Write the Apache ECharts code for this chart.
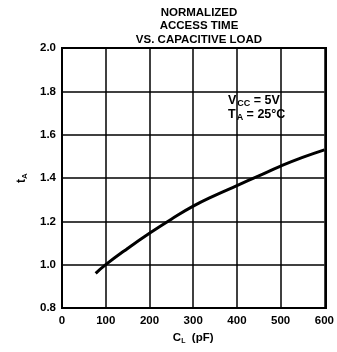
<!DOCTYPE html>
<html>
<head>
<meta charset="utf-8">
<script src="https://cdn.jsdelivr.net/npm/echarts@6/dist/echarts.min.js"></script>
<style>
  html, body { margin: 0; padding: 0; background: #fff; }
  #my-charts { width: 337px; height: 352px; }
</style>
</head>
<body>
<div id="my-charts"></div>
<script>
// load capacitance (pF) and normalized access time
var loadPf = [77, 100, 150, 200, 250, 300, 350, 400, 450, 500, 550, 600]
var accessTime = [0.96, 1.0, 1.075, 1.145, 1.21, 1.27, 1.32, 1.365, 1.41, 1.455, 1.495, 1.53]
var titleLines = ['NORMALIZED', 'ACCESS TIME', 'VS. CAPACITIVE LOAD']

var font = 'Liberation Sans'
var myChart = echarts.init(document.getElementById('my-charts'))

var option = {
  backgroundColor: '#fff',
  animation: false,
  title: {
    text: titleLines.join('\n'),
    left: 194,
    top: 1,
    textAlign: 'center',
    textStyle: {
      fontFamily: font,
      fontWeight: 'bold',
      fontSize: 11.5,
      lineHeight: 13.5,
      color: '#000'
    }
  },
  grid: { left: 62, right: 11, top: 48, bottom: 44 },
  xAxis: {
    type: 'value',
    min: 0,
    max: 600,
    interval: 100,
    name: '{b|C}{s|L}{b|  (pF)}',
    nameLocation: 'middle',
    nameGap: 22,
    nameTextStyle: {
      rich: {
        b: { fontFamily: font, fontWeight: 'bold', fontSize: 11.5, color: '#000' },
        s: { fontFamily: font, fontWeight: 'bold', fontSize: 7, color: '#000', padding: [6, 0, 0, 0] }
      }
    },
    axisLine: { lineStyle: { color: '#000', width: 2 } },
    axisTick: { show: false },
    axisLabel: { fontFamily: font, fontWeight: 'bold', fontSize: 11.5, color: '#000', margin: 7 },
    splitLine: { lineStyle: { color: '#000', width: 1.5 } }
  },
  yAxis: {
    type: 'value',
    min: 0.8,
    max: 2.0,
    interval: 0.2,
    name: '{b|t}{s|A}',
    nameLocation: 'middle',
    nameRotate: 90,
    nameGap: 26,
    nameTextStyle: {
      rich: {
        b: { fontFamily: font, fontWeight: 'bold', fontSize: 12, color: '#000' },
        s: { fontFamily: font, fontWeight: 'bold', fontSize: 8, color: '#000', padding: [6, 0, 0, 0] }
      }
    },
    axisLine: { lineStyle: { color: '#000', width: 2 } },
    axisTick: { show: false },
    axisLabel: {
      fontFamily: font, fontWeight: 'bold', fontSize: 11.5, color: '#000', margin: 6,
      formatter: function (v) { return v.toFixed(1) }
    },
    splitLine: { lineStyle: { color: '#000', width: 1.5 } }
  },
  graphic: [
    {
      type: 'rect',
      shape: { x: 62, y: 48, width: 264, height: 260 },
      style: { fill: 'none', stroke: '#000', lineWidth: 2 },
      silent: true
    },
    {
      type: 'text',
      left: 228,
      top: 94,
      style: {
        text: '{b|V}{s|CC}{b| = 5V}\n{b|T}{s|A}{b| = 25°C}',
        rich: {
          b: { fontFamily: font, fontWeight: 'bold', fontSize: 12.5, color: '#000', lineHeight: 14 },
          s: { fontFamily: font, fontWeight: 'bold', fontSize: 9, color: '#000', lineHeight: 14, padding: [5, 0, 0, 1] }
        }
      }
    }
  ],
  series: [
    {
      type: 'line',
      data: loadPf.map(function (x, i) { return [x, accessTime[i]] }),
      smooth: true,
      showSymbol: false,
      lineStyle: { color: '#000', width: 3 }
    }
  ]
}

myChart.setOption(option)
</script>
</body>
</html>
